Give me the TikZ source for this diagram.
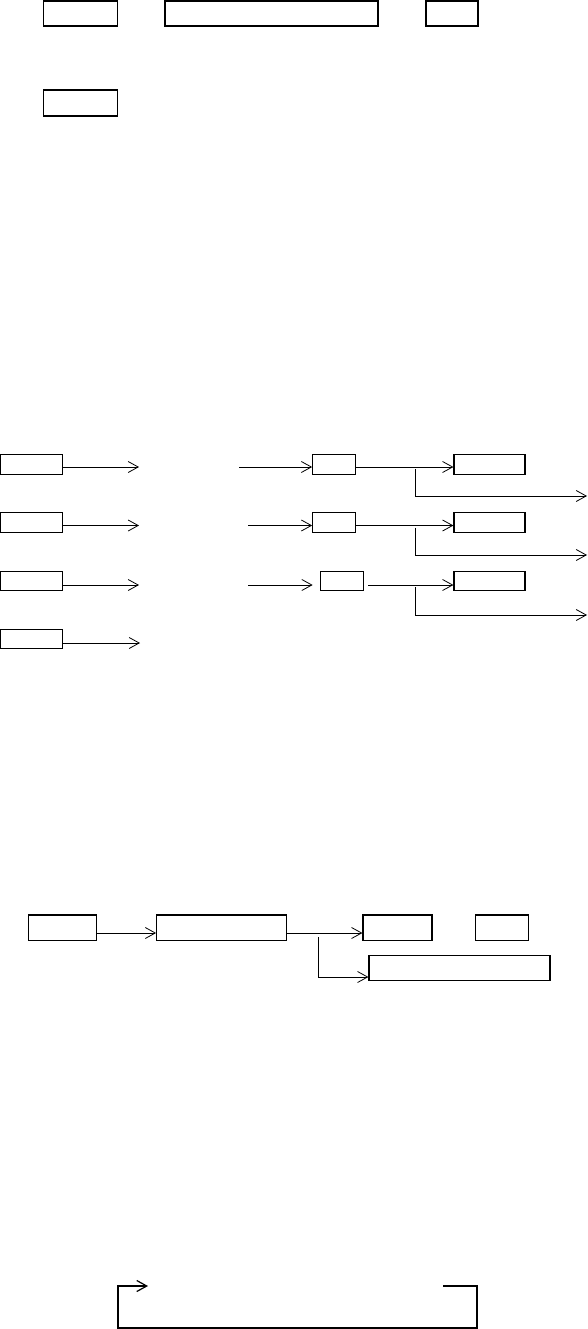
\documentclass[tikz,border=0pt]{standalone}
\usetikzlibrary{arrows.meta}

\begin{document}
\begin{tikzpicture}[x=1pt, y=-1pt, >={Straight Barb[length=10pt, width=11pt]},
    box/.style={draw, line width=1.2pt, inner sep=0pt, minimum height=19.5pt},
    arr/.style={->, line width=0.8pt}]
    \useasboundingbox (0,0) rectangle (588,1329);

    % 上段の箱
    \node[box, minimum width=74pt, minimum height=25pt] (t1) at (80.5,13.5) {};
    \node[box, minimum width=213pt, minimum height=25pt] (t2) at (271.5,13.5) {};
    \node[box, minimum width=52pt, minimum height=25pt] (t3) at (452,13.5) {};
    \node[box, minimum width=74pt, minimum height=26pt] (t4) at (80.5,103) {};

    % -------------------------------------------------------------
    % 中段: 3 本の流れ + 1 本
    % -------------------------------------------------------------

    % 1 行目
    \node[box, minimum width=62pt] (r1a) at (31.5,464.5) {};
    \node[box, minimum width=42.5pt] (r1b) at (334,464.5) {};
    \node[box, minimum width=71pt] (r1c) at (489.5,464.5) {};
    \coordinate (r1p) at (139,467);
    \coordinate (r1q) at (239,467);
    \draw[arr] (r1a.east |- r1p) -- (r1p);
    \draw[arr] (r1q) -- (r1q -| r1b.west);
    \draw[arr] (r1b.east |- r1q) -- (r1q -| r1c.west);
    \coordinate (r1s) at (415,469);
    \coordinate (r1e) at (587,496);
    \draw[arr] (r1s) |- (r1e);

    % 2 行目
    \node[box, minimum width=62pt] (r2a) at (31.5,522.5) {};
    \node[box, minimum width=42.5pt] (r2b) at (334,522.5) {};
    \node[box, minimum width=71pt] (r2c) at (489.5,522.5) {};
    \coordinate (r2p) at (139,525.5);
    \coordinate (r2q) at (248,525.5);
    \draw[arr] (r2a.east |- r2p) -- (r2p);
    \draw[arr] (r2q) -- (r2q -| r2b.west);
    \draw[arr] (r2b.east |- r2q) -- (r2q -| r2c.west);
    \coordinate (r2s) at (415,527.5);
    \coordinate (r2e) at (587,555);
    \draw[arr] (r2s) |- (r2e);

    % 3 行目 (中央の箱が少し右)
    \node[box, minimum width=62pt] (r3a) at (31.5,581) {};
    \node[box, minimum width=42.5pt] (r3b) at (342,581) {};
    \node[box, minimum width=71pt] (r3c) at (489.5,581) {};
    \coordinate (r3p) at (139,585);
    \coordinate (r3q) at (248,585);
    \draw[arr] (r3a.east |- r3p) -- (r3p);
    \draw[arr, shorten >=7.5pt] (r3q) -- (r3q -| r3b.west);
    \draw[arr, shorten <=4.5pt] (r3b.east |- r3q) -- (r3q -| r3c.west);
    \coordinate (r3s) at (415,587);
    \coordinate (r3e) at (587,615);
    \draw[arr] (r3s) |- (r3e);

    % 4 行目
    \node[box, minimum width=62pt] (r4a) at (31.5,639) {};
    \coordinate (r4p) at (140,643);
    \draw[arr] (r4a.east |- r4p) -- (r4p);

    % -------------------------------------------------------------
    % 下段
    % -------------------------------------------------------------
    \node[box, minimum width=68pt, minimum height=25.5pt] (b1) at (62.7,927.7) {};
    \node[box, minimum width=130pt, minimum height=25.5pt] (b2) at (221.7,927.7) {};
    \node[box, minimum width=69pt, minimum height=25.5pt] (b3) at (397.5,927.7) {};
    \node[box, minimum width=53pt, minimum height=25.5pt] (b4) at (502,927.7) {};
    \node[box, minimum width=181pt, minimum height=25.5pt] (b5) at (459.5,968) {};
    \coordinate (bl) at (0,933);
    \draw[arr] (b1.east |- bl) -- (b2.west |- bl);
    \draw[arr] (b2.east |- bl) -- (b3.west |- bl);
    \coordinate (bs) at (318,937);
    \coordinate (bt) at (0,977);
    \draw[arr] (bs) |- (b5.west |- bt);

    % 戻りの線
    \coordinate (lp1) at (443,1286);
    \coordinate (lp2) at (148,1286);
    \draw[arr, line width=1.2pt] (lp1) -- (477,1286) -- (477,1328) -- (118,1328) -- (118,1286) -- (lp2);

\end{tikzpicture}
\end{document}
